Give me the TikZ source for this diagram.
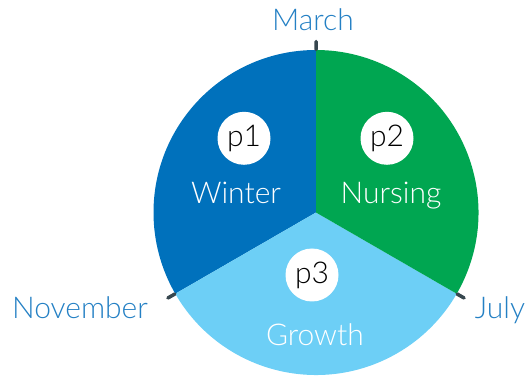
\documentclass[tikz,border=0pt]{standalone}
\usepackage{fontspec}
\setmainfont{Lato Light}
\usepackage{tikz}
\usepackage{xcolor}

\definecolor{winterblue}{RGB}{0,113,188}
\definecolor{nursinggreen}{RGB}{0,166,81}
\definecolor{growthblue}{RGB}{109,207,246}
\definecolor{monthblue}{RGB}{36,128,196}
\definecolor{tickgray}{RGB}{55,71,79}

\tikzset{
  season/.style={text=white, font=\fontsize{30}{30}\selectfont, anchor=base},
  month/.style={text=monthblue, font=\fontsize{30}{30}\selectfont, anchor=base},
  pbox/.style={circle, fill=white, minimum size=53pt, inner sep=0pt, font=\fontsize{30}{30}\selectfont},
  tickmark/.style={draw=tickgray, line width=3.5pt, line cap=round}
}

\begin{document}
\begin{tikzpicture}[x=1pt,y=1pt]
    \useasboundingbox (0,0) rectangle (528,378);
    \coordinate(c) at (316,165.5);

    \fill[winterblue]   (c) -- ++(90:162.5)  arc[start angle=90,  end angle=210, radius=162.5] -- cycle;
    \fill[growthblue]   (c) -- ++(210:162.5) arc[start angle=210, end angle=330, radius=162.5] -- cycle;
    \fill[nursinggreen] (c) -- ++(330:162.5) arc[start angle=330, end angle=450, radius=162.5] -- cycle;

    \coordinate(marchin)    at ([shift={(90:163)}]c);
    \coordinate(marchout)   at ([shift={(90:171)}]c);
    \coordinate(novemberin) at ([shift={(210:163)}]c);
    \coordinate(novemberout)at ([shift={(210:171)}]c);
    \coordinate(julyin)     at ([shift={(330:163)}]c);
    \coordinate(julyout)    at ([shift={(330:171)}]c);

    \draw[tickmark](marchin)    -- (marchout)
                   (novemberin) -- (novemberout)
                   (julyin)     -- (julyout);

    \node[pbox](p1) at (244,239.7) {p1};
    \node[pbox](p2) at (387,239.7) {p2};
    \node[pbox](p3) at (312,103)   {p3};

    \node[season](winter)  at (236,174) {Winter};
    \node[season](nursing) at (391,174) {Nursing};
    \node[season](growth)  at (315,33)  {Growth};

    \node[month](march)    at (313,347.3) {March};
    \node[month](november) at (80,59.7)   {November};
    \node[month](july)     at (500,59.7)  {July};
\end{tikzpicture}
\end{document}
